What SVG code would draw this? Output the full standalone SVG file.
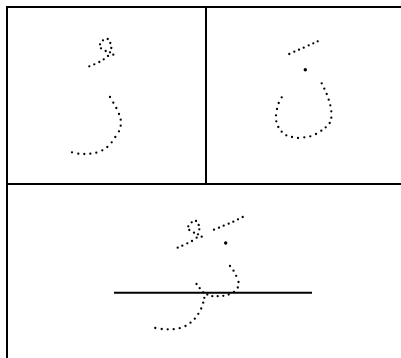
<svg xmlns="http://www.w3.org/2000/svg" width="401" height="358" viewBox="0 0 401 358">
<style>
.f{stroke:#000;stroke-width:2;fill:none}
.d circle{fill:#000}
.d circle{r:1.15px}
circle.b{r:1.7px}
</style>
<rect width="401" height="358" fill="#fff"/>
<g id="frame">
<path class="f" d="M6,7H401M7,6V358M6,184H401M206,6V184"/>
</g>
<g id="panel-waw" class="d">
<circle cx="103" cy="40.3" r="1.15"/><circle cx="107.7" cy="39" r="1.15"/><circle cx="100" cy="44.3" r="1.15"/><circle cx="110.3" cy="43" r="1.15"/><circle cx="101" cy="48.3" r="1.15"/><circle cx="111.3" cy="48" r="1.15"/><circle cx="105.7" cy="51" r="1.15"/><circle cx="110" cy="52.3" r="1.15"/><circle cx="108" cy="56" r="1.15"/><circle cx="113.3" cy="54.7" r="1.15"/><circle cx="103.7" cy="59.3" r="1.15"/><circle cx="99.3" cy="62" r="1.15"/><circle cx="94.3" cy="64.3" r="1.15"/><circle cx="89.3" cy="66.3" r="1.15"/>
<circle cx="110" cy="97" r="1.15"/><circle cx="113.3" cy="102.7" r="1.15"/><circle cx="116.3" cy="108" r="1.15"/><circle cx="119" cy="114" r="1.15"/><circle cx="120.7" cy="119.7" r="1.15"/><circle cx="120.7" cy="125.7" r="1.15"/><circle cx="119" cy="131.3" r="1.15"/><circle cx="115.3" cy="137" r="1.15"/><circle cx="111.7" cy="142.3" r="1.15"/><circle cx="107.3" cy="147" r="1.15"/><circle cx="102.3" cy="150.3" r="1.15"/><circle cx="96.3" cy="152.7" r="1.15"/><circle cx="90.3" cy="153.7" r="1.15"/><circle cx="84.3" cy="154" r="1.15"/><circle cx="78.3" cy="153.7" r="1.15"/><circle cx="72" cy="152.3" r="1.15"/>
</g>
<g id="panel-noon" class="d">
<circle cx="289.3" cy="54" r="1.15"/><circle cx="294.3" cy="51.7" r="1.15"/><circle cx="299" cy="49.7" r="1.15"/><circle cx="303.7" cy="47.7" r="1.15"/><circle cx="308.7" cy="45.3" r="1.15"/><circle cx="313.3" cy="43.3" r="1.15"/><circle cx="317.7" cy="41.3" r="1.15"/>
<circle class="b" cx="305.3" cy="69.7" r="1.7"/>
<circle cx="321.7" cy="83.3" r="1.15"/><circle cx="324.3" cy="88.7" r="1.15"/><circle cx="326.7" cy="94" r="1.15"/><circle cx="328.7" cy="99.7" r="1.15"/><circle cx="330.3" cy="105.3" r="1.15"/><circle cx="331.3" cy="111.3" r="1.15"/><circle cx="331.3" cy="117.7" r="1.15"/><circle cx="329.7" cy="123" r="1.15"/><circle cx="325.7" cy="127.3" r="1.15"/><circle cx="321.3" cy="130.7" r="1.15"/><circle cx="316" cy="134" r="1.15"/><circle cx="310.3" cy="136.3" r="1.15"/><circle cx="304.3" cy="137.3" r="1.15"/><circle cx="298" cy="138" r="1.15"/><circle cx="292" cy="137" r="1.15"/><circle cx="286.3" cy="135.3" r="1.15"/><circle cx="281.7" cy="131.7" r="1.15"/><circle cx="278.3" cy="127" r="1.15"/><circle cx="276.3" cy="121.3" r="1.15"/><circle cx="276" cy="115.3" r="1.15"/><circle cx="277" cy="109" r="1.15"/><circle cx="278.7" cy="103" r="1.15"/><circle cx="281.7" cy="97.3" r="1.15"/>
</g>
<g id="panel-combined" class="d">
<path class="f" d="M114,292.7H312"/>
<circle cx="191.7" cy="222.3" r="1.15"/><circle cx="196" cy="221" r="1.15"/><circle cx="188.3" cy="226.3" r="1.15"/><circle cx="198.7" cy="225" r="1.15"/><circle cx="189.3" cy="230" r="1.15"/><circle cx="199.3" cy="229.3" r="1.15"/><circle cx="194" cy="232.7" r="1.15"/><circle cx="198" cy="234.3" r="1.15"/><circle cx="201.7" cy="236.7" r="1.15"/><circle cx="196.7" cy="237.7" r="1.15"/><circle cx="192" cy="241" r="1.15"/><circle cx="187.3" cy="243.3" r="1.15"/><circle cx="182.3" cy="245.7" r="1.15"/><circle cx="177.7" cy="247.7" r="1.15"/>
<circle cx="214" cy="229.7" r="1.15"/><circle cx="219" cy="227.7" r="1.15"/><circle cx="223.7" cy="225.7" r="1.15"/><circle cx="228.7" cy="223.7" r="1.15"/><circle cx="233.3" cy="221.7" r="1.15"/><circle cx="238" cy="219.3" r="1.15"/><circle cx="242.7" cy="217" r="1.15"/>
<circle class="b" cx="225.7" cy="243" r="1.7"/>
<circle cx="230" cy="266" r="1.15"/><circle cx="233.5" cy="270.7" r="1.15"/><circle cx="236.2" cy="275.8" r="1.15"/><circle cx="238.5" cy="282" r="1.15"/><circle cx="237.8" cy="287.5" r="1.15"/><circle cx="234" cy="292" r="1.15"/><circle cx="228.7" cy="294.5" r="1.15"/><circle cx="223.3" cy="295.8" r="1.15"/><circle cx="217.7" cy="296.2" r="1.15"/><circle cx="212.3" cy="296.2" r="1.15"/><circle cx="207.3" cy="294.5" r="1.15"/>
<circle cx="196.5" cy="284" r="1.15"/><circle cx="199.7" cy="288.2" r="1.15"/><circle cx="203.2" cy="292.3" r="1.15"/><circle cx="204.3" cy="297.8" r="1.15"/><circle cx="203.2" cy="302.7" r="1.15"/><circle cx="201.2" cy="308.5" r="1.15"/><circle cx="198.3" cy="313.8" r="1.15"/><circle cx="194.8" cy="318.7" r="1.15"/><circle cx="190.5" cy="322.7" r="1.15"/><circle cx="185.5" cy="326" r="1.15"/><circle cx="179.7" cy="328.2" r="1.15"/><circle cx="173.7" cy="329.2" r="1.15"/><circle cx="167.7" cy="329.3" r="1.15"/><circle cx="161.7" cy="329" r="1.15"/><circle cx="155.3" cy="328" r="1.15"/>
</g>
</svg>
